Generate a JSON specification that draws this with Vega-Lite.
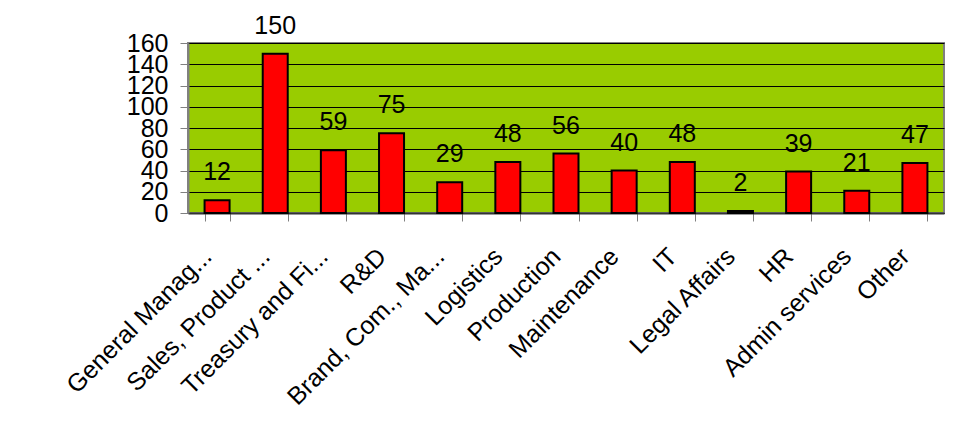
{
  "$schema": "https://vega.github.io/schema/vega-lite/v6.json",
  "width": 756,
  "height": 170,
  "autosize": {"type": "none"},
  "padding": {"left": 188, "top": 43, "right": 18, "bottom": 234},
  "background": "white",
  "config": {
    "font": "Liberation Sans",
    "view": {"fill": "#99CC00", "stroke": "#808080", "strokeWidth": 2}
  },
  "data": {
    "values": [
      {"department": "General Manag...", "count": 12},
      {"department": "Sales, Product ...", "count": 150},
      {"department": "Treasury and Fi...", "count": 59},
      {"department": "R&D", "count": 75},
      {"department": "Brand, Com., Ma...", "count": 29},
      {"department": "Logistics", "count": 48},
      {"department": "Production", "count": 56},
      {"department": "Maintenance", "count": 40},
      {"department": "IT", "count": 48},
      {"department": "Legal Affairs", "count": 2},
      {"department": "HR", "count": 39},
      {"department": "Admin services", "count": 21},
      {"department": "Other", "count": 47}
    ]
  },
  "encoding": {
    "x": {
      "field": "department",
      "type": "nominal",
      "sort": null,
      "scale": {"paddingInner": 0.57, "paddingOuter": 0.285},
      "axis": {
        "title": null,
        "tickBand": "extent",
        "labelAngle": -45,
        "labelAlign": "right",
        "labelBaseline": "middle",
        "labelFontSize": 25,
        "labelColor": "black",
        "labelPadding": 31,
        "labelOffset": -10,
        "labelOverlap": false,
        "labelLimit": 0,
        "tickSize": 8,
        "tickColor": "#808080",
        "domainColor": "#333333",
        "domainWidth": 2
      }
    },
    "y": {
      "field": "count",
      "type": "quantitative",
      "scale": {"domain": [0, 160], "nice": false},
      "axis": {
        "title": null,
        "values": [0, 20, 40, 60, 80, 100, 120, 140, 160],
        "labelFontSize": 25,
        "labelColor": "black",
        "labelPadding": 12,
        "labelOverlap": false,
        "tickSize": 8,
        "tickColor": "#808080",
        "domainColor": "#808080",
        "domainWidth": 2,
        "grid": true,
        "gridColor": "black",
        "gridWidth": 1
      }
    }
  },
  "layer": [
    {
      "mark": {"type": "bar", "fill": "#FF0000", "stroke": "black", "strokeWidth": 2}
    },
    {
      "mark": {"type": "text", "baseline": "alphabetic", "dy": -20, "fontSize": 25, "color": "black"},
      "encoding": {"text": {"field": "count", "type": "quantitative"}}
    }
  ]
}
